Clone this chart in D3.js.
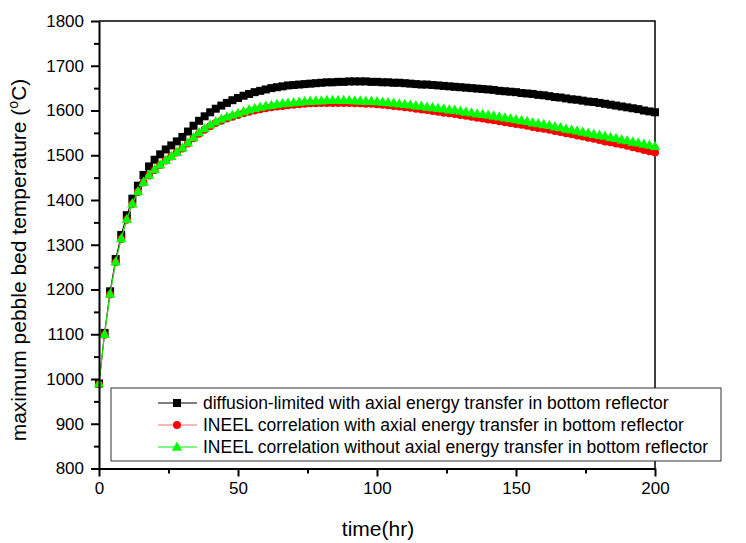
<!DOCTYPE html>
<html>
<head>
<meta charset="utf-8">
<script src="https://cdn.jsdelivr.net/npm/d3@7"></script>
<style>
  html, body { margin: 0; padding: 0; background: #fff; }
  svg { display: block; font-family: "Liberation Sans", Arial, sans-serif; }
</style>
</head>
<body>
<svg id="chart" width="746" height="543"></svg>
<script>
// Time axis: one sample every 2 hours, 0..200 hr
const timeHr = d3.range(0, 201, 2);

// Maximum pebble bed temperature (°C), diffusion-limited with axial energy transfer
const diffusionAxial = [
  990, 1103, 1196, 1268, 1322, 1366, 1403, 1432, 1456, 1475,
  1490, 1502, 1513, 1522, 1531, 1541, 1553, 1566, 1577, 1587,
  1596, 1604, 1611, 1617, 1623, 1628, 1633, 1637, 1641, 1644,
  1647, 1650, 1652, 1654, 1656, 1657, 1658, 1659, 1660, 1661,
  1662, 1663, 1663, 1664, 1664, 1665, 1665, 1665, 1665, 1664,
  1664, 1663, 1663, 1662, 1662, 1661, 1660, 1659, 1658, 1658,
  1657, 1656, 1655, 1654, 1653, 1652, 1651, 1650, 1649, 1648,
  1647, 1646, 1644, 1643, 1642, 1641, 1639, 1638, 1637, 1635,
  1634, 1632, 1630, 1629, 1627, 1625, 1624, 1622, 1620, 1619,
  1617, 1615, 1613, 1611, 1609, 1607, 1605, 1603, 1600, 1598,
  1596
];

// INEEL correlation with axial energy transfer
const ineelAxial = [
  988, 1099, 1189, 1261, 1313, 1356, 1391, 1418, 1439, 1455,
  1467, 1478, 1488, 1497, 1506, 1515, 1526, 1538, 1548, 1557,
  1565, 1572, 1577, 1582, 1586, 1590, 1594, 1597, 1600, 1603,
  1605, 1607, 1609, 1610, 1612, 1613, 1614, 1615, 1616, 1616,
  1617, 1617, 1617, 1617, 1617, 1617, 1616, 1616, 1615, 1615,
  1614, 1613, 1612, 1610, 1609, 1607, 1606, 1604, 1602, 1601,
  1599, 1597, 1595, 1594, 1592, 1590, 1588, 1586, 1584, 1582,
  1580, 1578, 1576, 1574, 1572, 1570, 1568, 1566, 1563, 1561,
  1559, 1557, 1554, 1552, 1549, 1547, 1544, 1542, 1539, 1537,
  1534, 1531, 1529, 1526, 1524, 1521, 1518, 1515, 1512, 1509,
  1506
];

// INEEL correlation without axial energy transfer
const ineelNoAxial = [
  990, 1100, 1190, 1262, 1314, 1357, 1392, 1419, 1440, 1456,
  1468, 1479, 1489, 1498, 1507, 1517, 1528, 1540, 1551, 1560,
  1568, 1575, 1581, 1586, 1590, 1594, 1598, 1602, 1605, 1608,
  1610, 1612, 1614, 1616, 1617, 1618, 1619, 1620, 1621, 1622,
  1622, 1623, 1623, 1623, 1623, 1623, 1622, 1622, 1621, 1621,
  1620, 1619, 1618, 1617, 1615, 1614, 1613, 1611, 1610, 1608,
  1607, 1605, 1604, 1602, 1601, 1599, 1597, 1595, 1593, 1592,
  1590, 1588, 1586, 1584, 1582, 1580, 1578, 1576, 1573, 1571,
  1569, 1567, 1564, 1562, 1559, 1557, 1555, 1552, 1550, 1547,
  1545, 1543, 1540, 1538, 1535, 1533, 1530, 1528, 1525, 1523,
  1520
];

const seriesNames = [
  "diffusion-limited with axial energy transfer in bottom reflector",
  "INEEL correlation with axial energy transfer in bottom reflector",
  "INEEL correlation without axial energy transfer in bottom reflector"
];

const xTicks = [0, 50, 100, 150, 200];
const xMinorTicks = [25, 75, 125, 175];
const yTicks = [800, 900, 1000, 1100, 1200, 1300, 1400, 1500, 1600, 1700, 1800];
const yMinorTicks = [850, 950, 1050, 1150, 1250, 1350, 1450, 1550, 1650, 1750];

const series = [
  { name: seriesNames[0], values: diffusionAxial, color: "#000000", line: "#000000", symbol: "square" },
  { name: seriesNames[1], values: ineelAxial, color: "#ff0000", line: "#f07070", symbol: "circle" },
  { name: seriesNames[2], values: ineelNoAxial, color: "#00ff00", line: "#00ee00", symbol: "triangle" }
];

const svg = d3.select("#chart");
const plotLeft = 99, plotRight = 655, plotTop = 21, plotBottom = 468.5;

const x = d3.scaleLinear().domain([0, 200]).range([plotLeft, plotRight]);
const y = d3.scaleLinear().domain([800, 1800]).range([plotBottom, plotTop]);

// symbol path generators
function symbolPath(kind) {
  if (kind === "square") return "M-4,-4H4V4H-4Z";
  if (kind === "circle") return "M4,0A4,4 0 1,1 -4,0A4,4 0 1,1 4,0Z";
  return "M0,-5.5L5.2,3.8L-5.2,3.8Z";
}

// frame (top and right border)
svg.append("path")
  .attr("d", `M${plotLeft},${plotTop}H${plotRight}V${plotBottom}`)
  .attr("fill", "none").attr("stroke", "#000").attr("stroke-width", 1.5);

// data series: line then symbols, later series on top
const lineGen = d3.line().x((d, i) => x(timeHr[i])).y(d => y(d));
series.forEach(s => {
  const g = svg.append("g");
  g.append("path")
    .attr("d", lineGen(s.values))
    .attr("fill", "none").attr("stroke", s.line).attr("stroke-width", 1);
  g.selectAll("path.m").data(s.values).join("path")
    .attr("class", "m")
    .attr("d", symbolPath(s.symbol))
    .attr("transform", (d, i) => `translate(${x(timeHr[i])},${y(d)})`)
    .attr("fill", s.color);
});

// axes
const tickFont = 17;
const xAxis = svg.append("g").attr("transform", `translate(0,${plotBottom})`)
  .call(d3.axisBottom(x).tickValues(xTicks).tickSize(8).tickSizeOuter(0).tickPadding(5).tickFormat(d3.format("d")));
const xMinor = svg.append("g").attr("transform", `translate(0,${plotBottom})`)
  .call(d3.axisBottom(x).tickValues(xMinorTicks).tickSize(5).tickSizeOuter(0).tickFormat(""));
const yAxis = svg.append("g").attr("transform", `translate(${plotLeft},0)`)
  .call(d3.axisLeft(y).tickValues(yTicks).tickSize(8).tickSizeOuter(0).tickPadding(7).tickFormat(d3.format("d")));
const yMinor = svg.append("g").attr("transform", `translate(${plotLeft},0)`)
  .call(d3.axisLeft(y).tickValues(yMinorTicks).tickSize(5).tickSizeOuter(0).tickFormat(""));

[xAxis, xMinor, yAxis, yMinor].forEach(a => {
  a.selectAll(".domain").attr("stroke", "#000").attr("stroke-width", 2);
  a.selectAll(".tick line").attr("stroke", "#000").attr("stroke-width", 2);
  a.selectAll("text").attr("font-size", tickFont).attr("fill", "#000")
    .attr("font-family", "'Liberation Sans', Arial, sans-serif");
});
xMinor.select(".domain").remove();
yMinor.select(".domain").remove();

// axis titles
svg.append("text")
  .attr("x", (plotLeft + plotRight) / 2 + 1).attr("y", 536)
  .attr("text-anchor", "middle").attr("font-size", 21)
  .text("time(hr)");

const yTitle = svg.append("text")
  .attr("transform", "translate(26,260) rotate(-90)")
  .attr("text-anchor", "middle").attr("font-size", 21);
yTitle.append("tspan").text("maximum pebble bed temperature (");
yTitle.append("tspan").attr("font-size", 14).attr("dy", -8).text("o");
yTitle.append("tspan").attr("dy", 8).text("C)");

// legend
const legend = svg.append("g");
legend.append("rect")
  .attr("x", 111).attr("y", 388).attr("width", 610).attr("height", 73)
  .attr("fill", "#fff").attr("stroke", "#333").attr("stroke-width", 1);
series.forEach((s, i) => {
  const cy = 403 + i * 22;
  legend.append("line")
    .attr("x1", 158).attr("x2", 197).attr("y1", cy).attr("y2", cy)
    .attr("stroke", s.line).attr("stroke-width", 1);
  legend.append("path")
    .attr("d", symbolPath(s.symbol))
    .attr("transform", `translate(177,${cy})`)
    .attr("fill", s.color);
  legend.append("text")
    .attr("x", 203).attr("y", cy + 6)
    .attr("font-size", 17.5)
    .text(s.name);
});
</script>
</body>
</html>
